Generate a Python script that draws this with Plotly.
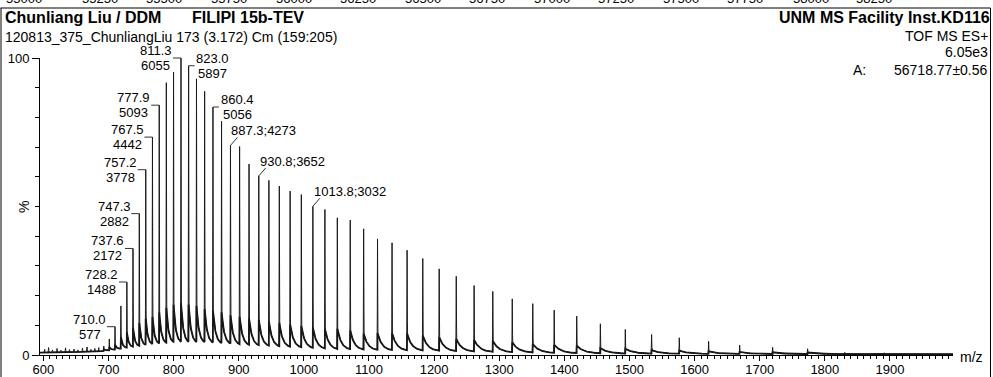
import numpy as np
import plotly.graph_objects as go

# ---------------- data ----------------
FULL_SCALE = 6055.0  # counts at 100 %

peak_mz = [692.7, 701.2, 710.0, 719.0, 728.2, 737.6, 747.3, 757.2, 767.5, 777.9,
           788.8, 799.9, 811.3, 823.0, 835.1, 847.6, 860.4, 873.6, 887.3, 901.3,
           915.8, 930.8, 946.3, 962.3, 978.9, 996.1, 1013.8, 1032.3, 1051.4, 1071.2,
           1091.8, 1113.1, 1135.4, 1158.5, 1182.6, 1207.8, 1234.0, 1261.4, 1290.1, 1320.0,
           1351.5, 1384.4, 1419.0, 1455.3, 1493.6, 1534.0, 1576.5, 1621.5, 1669.2, 1719.8,
           1773.5, 1830.6, 1891.6]
peak_counts = [182, 327, 577, 1000, 1488, 2172, 2882, 3778, 4442, 5093,
               5552, 5770, 6055, 5897, 5631, 5377, 5056, 4765, 4273, 4250,
               3893, 3652, 3560, 3445, 3342, 3270, 3032, 2967, 2797, 2749,
               2573, 2367, 2289, 2137, 1968, 1756, 1605, 1417, 1296, 1144,
               1047, 914, 793, 636, 521, 418, 351, 279, 200, 157,
               127, 54, 42]
# height (%) of the adduct shoulder right after each peak
shoulder_pct = [2.0, 2.6, 3.4, 6.0, 7.5, 9.0, 10.5, 12.0, 12.5, 14.0,
                15.5, 16.5, 17.0, 16.5, 16.0, 15.0, 14.5, 14.0, 13.0, 12.5,
                12.0, 11.5, 11.0, 10.5, 10.0, 9.5, 9.0, 8.6, 8.6, 8.0,
                7.0, 7.2, 7.2, 7.0, 6.3, 5.8, 5.2, 4.9, 4.6, 4.1,
                3.5, 3.3, 3.0, 2.2, 2.0, 1.6, 1.4, 1.2, 1.0, 0.9,
                0.8, 0.5, 0.4]
# valley / baseline level (%)
baseline_mz = [594, 650, 690, 710, 730, 760, 800, 850, 900, 950,
               1000, 1050, 1100, 1200, 1300, 1400, 1500, 1650, 1800, 2000]
baseline_pct = [0.8, 1.0, 1.3, 1.8, 2.4, 3.2, 4.0, 3.9, 3.3, 2.8,
                2.3, 1.8, 1.6, 1.3, 0.9, 0.6, 0.45, 0.35, 0.3, 0.25]
# small noise spikes in the low-m/z region
noise_mz = [602, 608, 614, 621, 627, 634, 640, 647, 653, 660, 667, 673, 679, 685]
noise_pct = [1.9, 2.5, 1.7, 2.2, 1.6, 2.4, 1.8, 2.0, 1.7, 2.3, 2.7, 1.9, 2.2, 2.5]

left_labels = ["710.0", "728.2", "737.6", "747.3", "757.2", "767.5", "777.9", "811.3"]
right_labels = ["823.0", "860.4"]
inline_labels = ["887.3", "930.8", "1013.8"]

x_ticks = [600, 700, 800, 900, 1000, 1100, 1200, 1300, 1400, 1500, 1600, 1700, 1800, 1900]
top_axis_labels = ["55000", "55250", "55500", "55750", "56000", "56250", "56500",
                   "56750", "57000", "57250", "57500", "57750", "58000", "58250"]

# ---------------- layout geometry ----------------
W, H = 993, 377
PL, PR, PT, PB = 40, 40, 58, 22
PW, PH = W - PL - PR, H - PT - PB
X0, X1 = 594.8, 1996.8
FONT = "Liberation Sans, Arial, sans-serif"


def px_x(mz):
    return PL + (mz - X0) / (X1 - X0) * PW


def px_y(pct):
    return PT + PH - pct / 100.0 * PH


def pap_x(px):
    return (px - PL) / PW


def pap_y(py):
    return (PT + PH - py) / PH


# ---------------- spectrum profile ----------------
x = np.arange(594.0, 2000.0, 0.25)
x = np.union1d(x, np.array(peak_mz))
x = np.union1d(x, np.array(noise_mz, dtype=float))
bg = np.interp(x, baseline_mz, baseline_pct)
pk = np.array(peak_mz)
gaps = np.append(np.diff(pk), np.diff(pk)[-1])
for mz, sh, gap in zip(peak_mz, shoulder_pct, gaps):
    amp = max(sh - np.interp(mz, baseline_mz, baseline_pct), 0.0)
    dx = x - mz
    m = dx >= 0
    bg[m] += amp * np.exp(-dx[m] / (0.3 * gap))
y = bg.copy()
for mz, c in zip(peak_mz, peak_counts):
    top = c / FULL_SCALE * 100
    base = np.interp(mz, x, bg)
    tri = np.clip(1 - np.abs(x - mz) / 0.6, 0, None)
    y += tri * (top - base)
for mz, p in zip(noise_mz, noise_pct):
    base = np.interp(mz, x, bg)
    tri = np.clip(1 - np.abs(x - mz) / 0.8, 0, None)
    y += tri * max(p - base, 0.0)

fig = go.Figure()
fig.add_trace(go.Scatter(x=x, y=bg, mode="lines", line=dict(color="#111111", width=1.8),
                         hoverinfo="skip"))
fig.add_trace(go.Scatter(x=x, y=y, mode="lines", line=dict(color="#1a1a1a", width=1),
                         hoverinfo="skip"))

annotations = []
shapes = []


def ann(text, px, py, xanchor="left", size=13, angle=0):
    return dict(text=text, x=pap_x(px), y=pap_y(py), xref="paper", yref="paper",
                xanchor=xanchor, yanchor="middle", showarrow=False, textangle=angle,
                font=dict(family=FONT, size=size, color="black"))


def seg(xa, ya, xb, yb, color="#333333", width=1):
    return dict(type="line", xref="paper", yref="paper",
                x0=pap_x(xa), y0=pap_y(ya), x1=pap_x(xb), y1=pap_y(yb),
                line=dict(color=color, width=width))


def text_w(s, size):
    widths = {".": 0.278, ";": 0.278}
    return sum(widths.get(ch, 0.556) for ch in s) * size


def peak_of(label):
    i = int(np.argmin(np.abs(pk - float(label))))
    return px_x(peak_mz[i]), px_y(peak_counts[i] / FULL_SCALE * 100), peak_counts[i]


for lab in left_labels:
    px, py, c = peak_of(lab)
    cs = str(c)
    wmax = max(text_w(lab, 13), text_w(cs, 13))
    cx = px - 9 - wmax / 2
    annotations.append(ann(lab, cx, py - 7.5, "center"))
    annotations.append(ann(cs, cx, py + 7.5, "center"))
    shapes.append(seg(px - 8, py, px, py))

for lab in right_labels:
    px, py, c = peak_of(lab)
    cs = str(c)
    wmax = max(text_w(lab, 13), text_w(cs, 13))
    cx = px + 8 + wmax / 2
    annotations.append(ann(lab, cx, py - 7.5, "center"))
    annotations.append(ann(cs, cx, py + 7.5, "center"))
    shapes.append(seg(px, py, px + 6, py))

for lab in inline_labels:
    px, py, c = peak_of(lab)
    annotations.append(ann(f"{lab};{c}", px - 1, py - 14.5, "left"))
    shapes.append(seg(px, py, px + 7, py - 8))

# header texts
annotations += [
    ann("<b>Chunliang Liu / DDM</b>", 3, 17.7, "left", 16),
    ann("<b>FILIPI 15b-TEV</b>", 190, 17.7, "left", 16),
    ann("120813_375_ChunliangLiu 173 (3.172) Cm (159:205)", 3, 36.7, "left", 14),
    ann("<b>UNM MS Facility Inst.KD116</b>", 992, 17.7, "right", 16),
    ann("TOF MS ES+", 990, 36.2, "right", 14),
    ann("6.05e3", 990, 52.5, "right", 14),
    ann("A:", 851, 69.5, "left", 14),
    ann("56718.77±0.56", 990, 69.5, "right", 14),
    ann("%", 24, 207, "center", 14, -90),
    ann("m/z", 971, 357, "center", 14),
]
# clipped axis labels of the panel above
top_centers = [24, 100, 164, 229, 294, 358, 423, 487, 552, 616, 681, 745, 811, 874]
for t, cx in zip(top_axis_labels, top_centers):
    annotations.append(ann(t, cx, -1, "center", 13))

# frame
shapes += [
    seg(0.5, 8, 990.5, 8, "black"),
    seg(1, 8, 1, 377, "black"),
    seg(990.5, 8, 990.5, 377, "black"),
]

fig.update_layout(
    width=W, height=H,
    margin=dict(l=PL, r=PR, t=PT, b=PB, pad=0),
    paper_bgcolor="white", plot_bgcolor="white",
    showlegend=False,
    annotations=annotations,
    shapes=shapes,
    xaxis=dict(range=[X0, X1], showline=True, linecolor="black", linewidth=1,
               ticks="outside", ticklen=5, tickcolor="black", tickwidth=1,
               tickmode="array", tickvals=x_ticks, ticktext=[str(v) for v in x_ticks],
               tickfont=dict(family=FONT, size=13, color="black"),
               ticklabelstandoff=-3,
               minor=dict(dtick=10, tick0=0, ticks="outside", ticklen=3,
                          tickcolor="black", showgrid=False),
               showgrid=False, zeroline=False, automargin=False, fixedrange=True),
    yaxis=dict(range=[0, 100], showline=True, linecolor="black", linewidth=1,
               ticks="outside", ticklen=7, tickcolor="black", tickwidth=1,
               tickmode="array", tickvals=[0, 100], ticktext=["0", "100"],
               tickfont=dict(family=FONT, size=13, color="black"),
               minor=dict(tickmode="array", tickvals=[10, 20, 30, 40, 50, 60, 70, 80, 90],
                          ticks="outside", ticklen=4, tickcolor="black", showgrid=False),
               showgrid=False, zeroline=False, automargin=False, fixedrange=True),
)

fig.write_html(
    "out.html",
    config={"displayModeBar": False, "staticPlot": True},
    post_script="document.body.style.margin='0';document.body.style.padding='0';"
                "document.body.style.overflow='hidden';",
)
